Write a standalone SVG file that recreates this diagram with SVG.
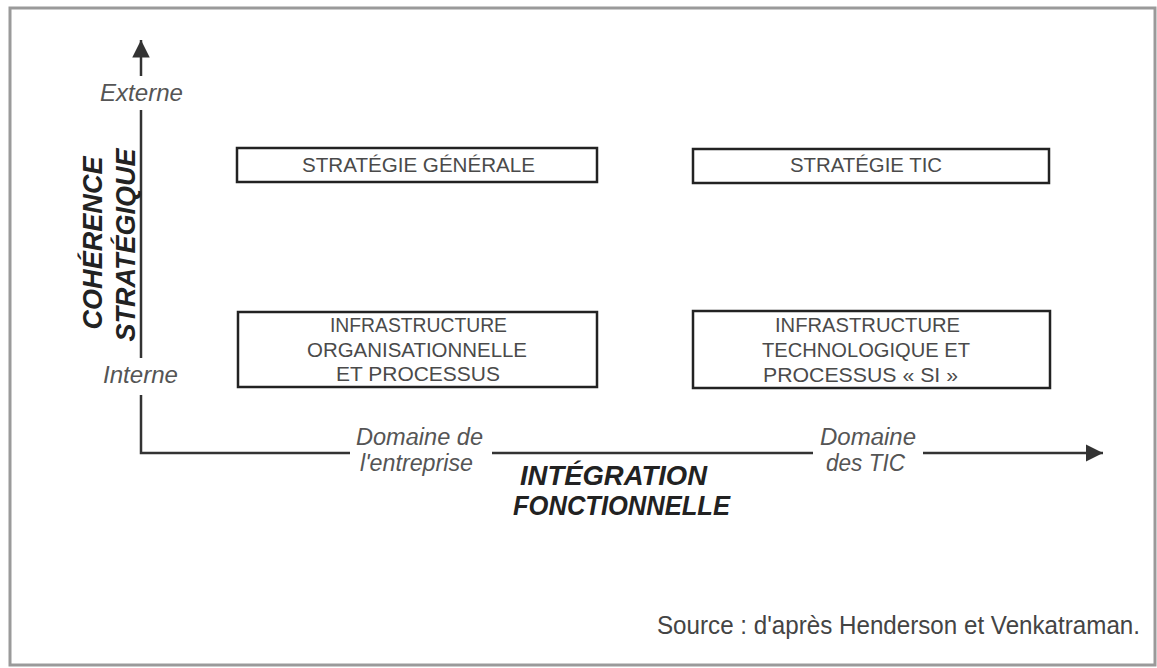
<svg xmlns="http://www.w3.org/2000/svg" width="1157" height="668" viewBox="0 0 1157 668">
<style>
.frame{fill:none;stroke:#9a9a9a;stroke-width:3}
.box{fill:#fff;stroke:#222;stroke-width:2.5}
.bt{font-family:"Liberation Sans",Arial,sans-serif;font-size:20px;fill:#4a4a4a}
.ax{fill:none;stroke:#333;stroke-width:2.5}
.al{font-family:"Liberation Sans",Arial,sans-serif;font-size:23px;font-style:italic;fill:#555}
.big{font-family:"Liberation Sans",Arial,sans-serif;font-size:28px;font-style:italic;font-weight:bold;fill:#222}
.src{font-family:"Liberation Sans",Arial,sans-serif;font-size:25px;fill:#444}
</style>
<defs>
<marker id="ah" viewBox="0 0 10 10" refX="10" refY="5" markerWidth="7" markerHeight="8" markerUnits="strokeWidth" orient="auto">
<path d="M0,0 L10,5 L0,10 Z" fill="#333"/>
</marker>
</defs>
<rect width="1157" height="668" fill="#fff"/>
<rect class="frame" x="10" y="8" width="1145" height="657"/>
<g id="connectors">
<line class="ax" x1="141" y1="76" x2="141" y2="40" marker-end="url(#ah)"/>
<line class="ax" x1="141" y1="110" x2="141" y2="358"/>
<polyline class="ax" points="141,395 141,453 350,453"/>
<line class="ax" x1="492" y1="453" x2="813" y2="453"/>
<line class="ax" x1="923" y1="453" x2="1103" y2="453" marker-end="url(#ah)"/>
</g>
<g id="axis-labels">
<text class="al" x="100" y="101" textLength="83" lengthAdjust="spacingAndGlyphs">Externe</text>
<text class="al" x="103" y="383" textLength="75" lengthAdjust="spacingAndGlyphs">Interne</text>
<text class="big" transform="translate(102,243) rotate(-90)" text-anchor="middle" textLength="173" lengthAdjust="spacingAndGlyphs">COHÉRENCE</text>
<text class="big" transform="translate(135,245) rotate(-90)" text-anchor="middle" textLength="193" lengthAdjust="spacingAndGlyphs">STRATÉGIQUE</text>
<text class="al" x="356" y="445" textLength="127" lengthAdjust="spacingAndGlyphs">Domaine de</text>
<text class="al" x="360" y="471" textLength="113" lengthAdjust="spacingAndGlyphs">l'entreprise</text>
<text class="al" x="820" y="445" textLength="96" lengthAdjust="spacingAndGlyphs">Domaine</text>
<text class="al" x="826" y="471" textLength="79" lengthAdjust="spacingAndGlyphs">des TIC</text>
<text class="big" x="520" y="485" textLength="187" lengthAdjust="spacingAndGlyphs">INTÉGRATION</text>
<text class="big" x="513" y="515" textLength="217" lengthAdjust="spacingAndGlyphs">FONCTIONNELLE</text>
</g>
<g id="node-strategie-generale">
<rect class="box" x="237" y="148" width="360" height="34"/>
<text class="bt" x="302" y="172" textLength="233" lengthAdjust="spacingAndGlyphs">STRATÉGIE GÉNÉRALE</text>
</g>
<g id="node-strategie-tic">
<rect class="box" x="693" y="149" width="356" height="34"/>
<text class="bt" x="790" y="172" textLength="152" lengthAdjust="spacingAndGlyphs">STRATÉGIE TIC</text>
</g>
<g id="node-infra-org">
<rect class="box" x="238" y="312" width="359" height="75"/>
<text class="bt" x="330" y="332" textLength="177" lengthAdjust="spacingAndGlyphs">INFRASTRUCTURE</text>
<text class="bt" x="307" y="357" textLength="220" lengthAdjust="spacingAndGlyphs">ORGANISATIONNELLE</text>
<text class="bt" x="336" y="381" textLength="164" lengthAdjust="spacingAndGlyphs">ET PROCESSUS</text>
</g>
<g id="node-infra-tech">
<rect class="box" x="693" y="311" width="357" height="77"/>
<text class="bt" x="775" y="332" textLength="185" lengthAdjust="spacingAndGlyphs">INFRASTRUCTURE</text>
<text class="bt" x="762" y="357" textLength="208" lengthAdjust="spacingAndGlyphs">TECHNOLOGIQUE ET</text>
<text class="bt" x="763" y="382" textLength="195" lengthAdjust="spacingAndGlyphs">PROCESSUS « SI »</text>
</g>
<text class="src" x="657" y="634" textLength="483" lengthAdjust="spacingAndGlyphs">Source : d'après Henderson et Venkatraman.</text>
</svg>
